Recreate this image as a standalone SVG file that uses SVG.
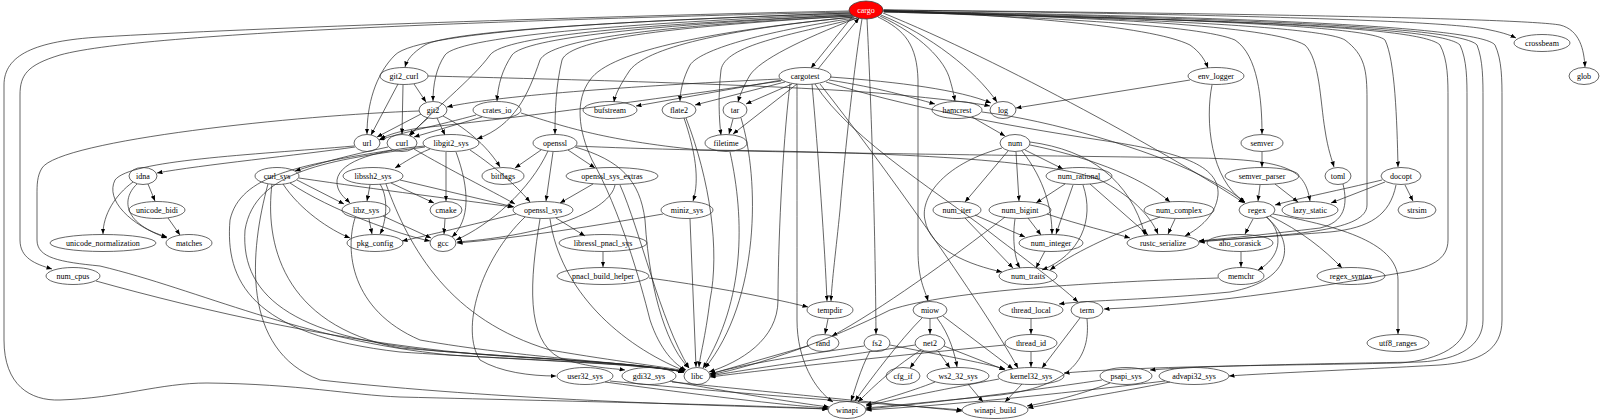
<svg xmlns="http://www.w3.org/2000/svg" width="1600" height="420" viewBox="0 0 1600 420">
<style>
.n ellipse{fill:none;stroke:#333;stroke-width:0.75}
.n text{font-family:"Liberation Serif",serif;font-size:8px;text-anchor:middle;fill:#000}
#edges path{fill:none;stroke:#222;stroke-width:0.7;marker-end:url(#a)}
</style>
<defs>
<marker id="a" viewBox="0 0 10 8" refX="10" refY="4" markerWidth="5.5" markerHeight="4.4" orient="auto" markerUnits="userSpaceOnUse"><path d="M0,0 L10,4 L0,8z" fill="#000"/></marker>
</defs>
<rect width="1600" height="420" fill="#fff"/>
<g id="edges">
<path d="M849,11 C600,16 250,28 100,37 C35,41 4,55 4,85 L4,340 C4,385 30,401 60,400 C120,398 160,383 207,383 C300,384 350,395 400,397 C600,402 750,405 828,409"/>
<path d="M849,12 C600,18 150,30 60,55 C27,65 20,75 20,95 L20,240 C20,258 35,264 52,269"/>
<path d="M850,13 C650,20 420,30 395,55 C375,75 367,105 367,134"/>
<path d="M851,13 C650,20 450,30 425,45 C412,53 407,60 405,67"/>
<path d="M851,14 C650,22 460,35 445,55 C436,68 433,85 433,101"/>
<path d="M852,15 C650,24 505,35 490,55 C472,80 430,112 410,136"/>
<path d="M852,15 C650,25 525,38 512,55 C502,70 498,85 497,101"/>
<path d="M853,16 C650,26 550,40 540,60 C528,95 515,125 477,139"/>
<path d="M853,16 C680,26 570,38 562,60 C556,85 555,110 555,134"/>
<path d="M854,17 C720,30 610,50 590,80 C575,100 578,130 592,160 C620,210 640,280 650,320 C660,350 675,365 686,370"/>
<path d="M854,17 C740,28 650,45 630,70 C620,85 615,95 614,102"/>
<path d="M855,18 C760,32 700,50 690,65 C683,78 680,92 680,101"/>
<path d="M857,18 C800,40 760,60 750,75 C743,87 740,95 738,102"/>
<path d="M858,18 C790,35 725,45 721,70 C718,95 719,120 721,135"/>
<path d="M852,17 L811,68"/>
<path d="M818,69 L859,18"/>
<path d="M862,19 C855,60 845,150 840,210 C836,250 832,280 831,301"/>
<path d="M867,19 C870,80 875,200 876,334"/>
<path d="M878,17 C905,30 917,45 918,80 L918,250 C918,280 925,290 928,301"/>
<path d="M880,16 C920,35 945,60 950,80 C953,90 954,96 955,101"/>
<path d="M881,15 C930,35 975,70 997,102"/>
<path d="M883,13 C1000,60 1180,160 1244,203"/>
<path d="M883,10 C1000,15 1150,25 1190,45 C1200,52 1205,60 1208,68"/>
<path d="M883,11 C1050,18 1200,25 1235,40 C1258,55 1262,100 1262,134"/>
<path d="M883,11 C1100,18 1270,25 1305,45 C1320,60 1320,100 1325,130 C1328,150 1332,160 1334,167"/>
<path d="M884,11 C1100,18 1320,25 1345,40 C1365,55 1367,70 1367,100 L1367,205 C1367,230 1300,235 1199,241"/>
<path d="M884,11 C1150,18 1370,25 1385,40 C1395,60 1397,120 1398,167"/>
<path d="M884,12 C1200,20 1420,25 1440,45 C1448,60 1448,80 1448,100 L1448,240 C1448,260 1430,268 1400,273 C1300,290 1200,305 1104,309"/>
<path d="M884,12 C1200,20 1440,25 1460,45 C1467,60 1467,80 1467,100 L1467,320 C1467,345 1440,360 1400,363 C1250,366 1150,366 1064,373"/>
<path d="M884,11 C1200,18 1460,25 1477,45 C1483,60 1483,80 1483,100 L1483,320 C1483,345 1460,360 1420,362 C1300,364 1200,366 1150,370"/>
<path d="M884,11 C1200,16 1480,25 1495,45 C1502,60 1502,80 1502,100 L1502,320 C1502,350 1480,362 1440,365 C1350,370 1270,373 1229,376"/>
<path d="M884,10 C1200,14 1450,20 1490,30 C1505,33 1512,36 1516,38"/>
<path d="M884,10 C1200,13 1520,18 1560,25 C1580,30 1584,50 1585,67"/>
<path d="M780,79 C650,85 500,95 447,107"/>
<path d="M781,81 C650,100 500,120 420,128 C400,131 390,134 380,139"/>
<path d="M782,80 L636,106"/>
<path d="M785,82 L695,105"/>
<path d="M792,84 L746,104"/>
<path d="M797,84 L733,134"/>
<path d="M829,80 C880,88 910,97 935,104"/>
<path d="M830,77 C900,82 960,90 991,103"/>
<path d="M797,84 C797,150 797,250 797,320 C797,360 815,390 833,402"/>
<path d="M790,84 C782,150 778,250 778,300 C778,340 740,362 709,372"/>
<path d="M812,84 C818,150 825,250 827,301"/>
<path d="M815,84 C850,140 950,200 1000,240 C1040,270 1065,290 1078,302"/>
<path d="M820,84 C880,160 980,300 1018,368"/>
<path d="M826,82 C900,105 1000,125 1100,140 C1180,152 1220,165 1218,195 C1216,215 1200,228 1185,236"/>
<path d="M414,84 L426,102"/>
<path d="M398,84 L371,135"/>
<path d="M403,85 L402,134"/>
<path d="M428,76 C550,79 800,85 900,95 C950,100 975,103 990,106"/>
<path d="M421,114 L377,137"/>
<path d="M428,118 L409,135"/>
<path d="M437,118 L445,135"/>
<path d="M443,116 C470,130 490,150 500,167"/>
<path d="M419,111 C300,115 60,140 42,168 C37,176 37,185 37,195 L37,240 C37,258 60,262 100,266 C200,290 300,340 450,355 C560,362 640,364 684,372"/>
<path d="M476,115 C440,125 400,133 379,140"/>
<path d="M482,117 L414,137"/>
<path d="M521,113 C560,125 600,140 700,150 C900,152 1050,160 1100,180 C1130,195 1150,215 1158,234"/>
<path d="M355,147 C300,155 200,165 157,173"/>
<path d="M354,146 C250,155 130,160 115,180 C105,200 130,225 167,238"/>
<path d="M148,184 L155,201"/>
<path d="M133,182 C115,195 103,215 103,234"/>
<path d="M137,184 C120,200 125,225 167,237"/>
<path d="M168,218 L180,235"/>
<path d="M388,147 C350,155 320,163 295,171"/>
<path d="M414,149 C450,170 490,190 515,204"/>
<path d="M392,150 C300,165 240,175 230,220 C225,280 250,335 400,352 C520,360 640,363 684,372"/>
<path d="M297,180 L344,204"/>
<path d="M299,178 C380,190 460,200 513,207"/>
<path d="M283,184 C300,210 330,230 350,238"/>
<path d="M290,183 C330,210 400,235 430,241"/>
<path d="M272,184 C265,240 280,325 400,348 C520,358 640,363 684,372"/>
<path d="M268,184 C250,250 240,350 320,380 C500,400 700,405 828,409"/>
<path d="M370,185 L367,201"/>
<path d="M400,180 L514,207"/>
<path d="M391,183 L434,203"/>
<path d="M380,184 C390,200 385,225 380,234"/>
<path d="M386,184 C410,250 450,320 550,350 C620,362 660,366 685,371"/>
<path d="M430,149 C415,155 405,162 395,168"/>
<path d="M425,146 C380,150 340,160 337,180 C336,192 345,198 350,203"/>
<path d="M470,150 C500,170 520,190 530,202"/>
<path d="M446,152 L446,201"/>
<path d="M456,152 C470,190 470,220 452,237"/>
<path d="M425,147 C330,160 255,170 245,230 C240,300 300,340 450,352 C560,360 640,363 684,372"/>
<path d="M541,150 L515,168"/>
<path d="M553,152 L546,201"/>
<path d="M568,150 L595,168"/>
<path d="M548,151 C530,190 490,225 456,240"/>
<path d="M575,147 C620,160 640,180 645,220 C650,300 670,350 689,368"/>
<path d="M576,146 C700,152 1000,155 1200,158 C1290,160 1305,170 1310,201"/>
<path d="M593,184 L560,203"/>
<path d="M615,185 C610,210 550,235 457,242"/>
<path d="M620,185 C640,230 660,320 689,368"/>
<path d="M516,214 C470,225 430,235 402,241"/>
<path d="M556,218 L585,236"/>
<path d="M525,217 C480,260 460,330 480,360 C500,372 530,376 556,376"/>
<path d="M540,219 C530,280 525,340 560,358 C590,368 610,368 625,370"/>
<path d="M550,219 C560,290 620,345 685,371"/>
<path d="M603,252 L603,267"/>
<path d="M649,278 C700,285 760,295 808,307"/>
<path d="M445,219 L444,234"/>
<path d="M369,219 L372,234"/>
<path d="M383,216 L431,238"/>
<path d="M355,218 C345,250 350,310 420,340 C520,358 640,363 684,372"/>
<path d="M684,118 C695,150 700,180 693,201"/>
<path d="M686,118 C710,180 720,250 710,300 C705,340 700,355 699,367"/>
<path d="M663,214 C600,225 520,238 457,243"/>
<path d="M690,219 L696,367"/>
<path d="M733,119 L729,134"/>
<path d="M741,118 C760,180 760,300 705,368"/>
<path d="M730,152 C745,220 745,300 703,368"/>
<path d="M972,117 L1005,136"/>
<path d="M982,112 C1050,120 1150,150 1200,175 C1230,190 1240,198 1245,203"/>
<path d="M1008,151 L965,202"/>
<path d="M1016,152 L1019,201"/>
<path d="M1025,150 L1063,169"/>
<path d="M1030,145 C1080,155 1140,175 1170,202"/>
<path d="M1022,151 C1045,180 1052,210 1052,234"/>
<path d="M1002,148 C940,165 920,200 925,220 C930,250 970,265 1002,272"/>
<path d="M1030,142 C1090,150 1130,180 1145,235"/>
<path d="M975,215 L1025,237"/>
<path d="M965,218 L1013,268"/>
<path d="M1028,218 L1041,235"/>
<path d="M1015,219 C1012,240 1015,260 1020,268"/>
<path d="M1047,214 C1080,225 1110,232 1130,238"/>
<path d="M1005,217 C950,260 880,310 832,336"/>
<path d="M1065,184 L1036,203"/>
<path d="M1073,185 L1056,234"/>
<path d="M1083,185 C1095,220 1080,255 1042,270"/>
<path d="M1090,184 L1148,235"/>
<path d="M1160,217 C1110,235 1070,255 1050,270"/>
<path d="M1175,219 L1168,234"/>
<path d="M1045,251 L1036,268"/>
<path d="M1190,80 L1016,108"/>
<path d="M1212,85 C1205,120 1210,180 1245,202"/>
<path d="M1262,152 L1262,167"/>
<path d="M1260,185 L1258,201"/>
<path d="M1275,184 L1298,202"/>
<path d="M1343,184 C1348,205 1345,222 1320,228 C1270,234 1230,238 1199,241"/>
<path d="M1382,180 C1340,190 1300,198 1275,205"/>
<path d="M1385,182 L1331,203"/>
<path d="M1405,185 L1413,201"/>
<path d="M1396,185 C1390,215 1370,228 1330,232 C1280,236 1230,239 1199,242"/>
<path d="M1253,219 L1245,234"/>
<path d="M1267,217 C1285,235 1280,258 1258,270"/>
<path d="M1270,216 C1300,230 1325,250 1342,268"/>
<path d="M1273,214 C1330,225 1398,240 1398,280 L1398,334"/>
<path d="M1266,217 C1295,240 1295,280 1230,292 C1150,300 1090,300 1059,304"/>
<path d="M1241,252 L1241,267"/>
<path d="M1218,278 C1100,282 950,290 890,310 C830,340 760,365 710,375"/>
<path d="M828,319 L825,334"/>
<path d="M808,346 L710,374"/>
<path d="M864,346 C800,355 740,365 710,374"/>
<path d="M870,351 C860,370 855,390 851,401"/>
<path d="M890,345 C940,355 980,362 1005,369"/>
<path d="M930,319 L930,334"/>
<path d="M937,318 C950,335 955,355 957,367"/>
<path d="M943,316 L1013,369"/>
<path d="M922,318 C900,340 870,380 855,401"/>
<path d="M923,351 L910,368"/>
<path d="M938,351 L950,368"/>
<path d="M944,346 L1005,370"/>
<path d="M915,345 C850,355 760,367 710,376"/>
<path d="M921,350 C890,370 870,390 858,402"/>
<path d="M1031,319 L1031,334"/>
<path d="M1031,352 L1031,367"/>
<path d="M1005,345 C900,355 780,368 710,377"/>
<path d="M1080,318 L1042,368"/>
<path d="M1087,319 C1090,350 1080,385 1000,395 C950,400 900,405 866,408"/>
<path d="M999,379 C950,388 900,398 866,406"/>
<path d="M1022,384 L1005,402"/>
<path d="M935,382 C910,392 880,400 866,405"/>
<path d="M968,384 L983,402"/>
<path d="M1102,380 C1000,395 930,403 866,409"/>
<path d="M1110,383 C1080,395 1050,402 1027,406"/>
<path d="M1165,381 C1050,395 950,405 866,410"/>
<path d="M1170,382 C1120,392 1070,400 1028,408"/>
<path d="M605,382 C700,395 780,405 828,408"/>
<path d="M610,381 C750,395 900,405 962,410"/>
<path d="M670,381 C730,392 790,402 829,407"/>
<path d="M672,382 C800,395 900,405 962,411"/>
<path d="M96,281 C200,310 350,345 500,356 C600,362 650,365 684,372"/>
</g>
<g id="n-cargo" class="n"><ellipse cx="866" cy="10" rx="17" ry="9" style="fill:#f00"/><text x="866" y="12.8" style="fill:#fff">cargo</text></g>
<g id="n-crossbeam" class="n"><ellipse cx="1542" cy="43" rx="28" ry="8.5"/><text x="1542" y="45.8">crossbeam</text></g>
<g id="n-git2_curl" class="n"><ellipse cx="404" cy="76" rx="24" ry="8.5"/><text x="404" y="78.8">git2_curl</text></g>
<g id="n-cargotest" class="n"><ellipse cx="805" cy="76" rx="26" ry="8.5"/><text x="805" y="78.8">cargotest</text></g>
<g id="n-env_logger" class="n"><ellipse cx="1216" cy="76" rx="28" ry="8.5"/><text x="1216" y="78.8">env_logger</text></g>
<g id="n-glob" class="n"><ellipse cx="1584" cy="76" rx="15" ry="8.5"/><text x="1584" y="78.8">glob</text></g>
<g id="n-git2" class="n"><ellipse cx="433" cy="110" rx="14" ry="8.5"/><text x="433" y="112.8">git2</text></g>
<g id="n-crates_io" class="n"><ellipse cx="497" cy="110" rx="24" ry="8.5"/><text x="497" y="112.8">crates_io</text></g>
<g id="n-bufstream" class="n"><ellipse cx="610" cy="110" rx="27" ry="8.5"/><text x="610" y="112.8">bufstream</text></g>
<g id="n-flate2" class="n"><ellipse cx="679" cy="110" rx="17" ry="8.5"/><text x="679" y="112.8">flate2</text></g>
<g id="n-tar" class="n"><ellipse cx="735" cy="110" rx="12" ry="8.5"/><text x="735" y="112.8">tar</text></g>
<g id="n-hamcrest" class="n"><ellipse cx="957" cy="110" rx="25" ry="8.5"/><text x="957" y="112.8">hamcrest</text></g>
<g id="n-log" class="n"><ellipse cx="1003" cy="110" rx="13" ry="8.5"/><text x="1003" y="112.8">log</text></g>
<g id="n-url" class="n"><ellipse cx="367" cy="143" rx="13" ry="8.5"/><text x="367" y="145.8">url</text></g>
<g id="n-curl" class="n"><ellipse cx="402" cy="143" rx="15" ry="8.5"/><text x="402" y="145.8">curl</text></g>
<g id="n-libgit2_sys" class="n"><ellipse cx="451" cy="143" rx="28" ry="8.5"/><text x="451" y="145.8">libgit2_sys</text></g>
<g id="n-openssl" class="n"><ellipse cx="555" cy="143" rx="22" ry="8.5"/><text x="555" y="145.8">openssl</text></g>
<g id="n-filetime" class="n"><ellipse cx="726" cy="143" rx="21" ry="8.5"/><text x="726" y="145.8">filetime</text></g>
<g id="n-num" class="n"><ellipse cx="1015" cy="143" rx="15" ry="8.5"/><text x="1015" y="145.8">num</text></g>
<g id="n-semver" class="n"><ellipse cx="1262" cy="143" rx="21" ry="8.5"/><text x="1262" y="145.8">semver</text></g>
<g id="n-idna" class="n"><ellipse cx="143" cy="176" rx="14" ry="8.5"/><text x="143" y="178.8">idna</text></g>
<g id="n-curl_sys" class="n"><ellipse cx="277" cy="176" rx="22" ry="8.5"/><text x="277" y="178.8">curl_sys</text></g>
<g id="n-libssh2_sys" class="n"><ellipse cx="373" cy="176" rx="30" ry="8.5"/><text x="373" y="178.8">libssh2_sys</text></g>
<g id="n-bitflags" class="n"><ellipse cx="503" cy="176" rx="21" ry="8.5"/><text x="503" y="178.8">bitflags</text></g>
<g id="n-openssl_sys_extras" class="n"><ellipse cx="612" cy="176" rx="46" ry="8.5"/><text x="612" y="178.8">openssl_sys_extras</text></g>
<g id="n-num_rational" class="n"><ellipse cx="1079" cy="176" rx="33" ry="8.5"/><text x="1079" y="178.8">num_rational</text></g>
<g id="n-semver_parser" class="n"><ellipse cx="1262" cy="176" rx="37" ry="8.5"/><text x="1262" y="178.8">semver_parser</text></g>
<g id="n-toml" class="n"><ellipse cx="1338" cy="176" rx="13" ry="8.5"/><text x="1338" y="178.8">toml</text></g>
<g id="n-docopt" class="n"><ellipse cx="1401" cy="176" rx="20" ry="8.5"/><text x="1401" y="178.8">docopt</text></g>
<g id="n-unicode_bidi" class="n"><ellipse cx="157" cy="210" rx="28" ry="8.5"/><text x="157" y="212.8">unicode_bidi</text></g>
<g id="n-libz_sys" class="n"><ellipse cx="366" cy="210" rx="24" ry="8.5"/><text x="366" y="212.8">libz_sys</text></g>
<g id="n-cmake" class="n"><ellipse cx="446" cy="210" rx="16" ry="8.5"/><text x="446" y="212.8">cmake</text></g>
<g id="n-openssl_sys" class="n"><ellipse cx="543" cy="210" rx="30" ry="8.5"/><text x="543" y="212.8">openssl_sys</text></g>
<g id="n-miniz_sys" class="n"><ellipse cx="687" cy="210" rx="26" ry="8.5"/><text x="687" y="212.8">miniz_sys</text></g>
<g id="n-num_iter" class="n"><ellipse cx="957" cy="210" rx="24" ry="8.5"/><text x="957" y="212.8">num_iter</text></g>
<g id="n-num_bigint" class="n"><ellipse cx="1020" cy="210" rx="31" ry="8.5"/><text x="1020" y="212.8">num_bigint</text></g>
<g id="n-num_complex" class="n"><ellipse cx="1179" cy="210" rx="35" ry="8.5"/><text x="1179" y="212.8">num_complex</text></g>
<g id="n-regex" class="n"><ellipse cx="1257" cy="210" rx="18" ry="8.5"/><text x="1257" y="212.8">regex</text></g>
<g id="n-lazy_static" class="n"><ellipse cx="1310" cy="210" rx="28" ry="8.5"/><text x="1310" y="212.8">lazy_static</text></g>
<g id="n-strsim" class="n"><ellipse cx="1417" cy="210" rx="19" ry="8.5"/><text x="1417" y="212.8">strsim</text></g>
<g id="n-unicode_normalization" class="n"><ellipse cx="103" cy="243" rx="53" ry="8.5"/><text x="103" y="245.8">unicode_normalization</text></g>
<g id="n-matches" class="n"><ellipse cx="189" cy="243" rx="23" ry="8.5"/><text x="189" y="245.8">matches</text></g>
<g id="n-pkg_config" class="n"><ellipse cx="375" cy="243" rx="28" ry="8.5"/><text x="375" y="245.8">pkg_config</text></g>
<g id="n-gcc" class="n"><ellipse cx="443" cy="243" rx="13" ry="8.5"/><text x="443" y="245.8">gcc</text></g>
<g id="n-libressl_pnacl_sys" class="n"><ellipse cx="603" cy="243" rx="44" ry="8.5"/><text x="603" y="245.8">libressl_pnacl_sys</text></g>
<g id="n-num_integer" class="n"><ellipse cx="1051" cy="243" rx="32" ry="8.5"/><text x="1051" y="245.8">num_integer</text></g>
<g id="n-rustc_serialize" class="n"><ellipse cx="1163" cy="243" rx="36" ry="8.5"/><text x="1163" y="245.8">rustc_serialize</text></g>
<g id="n-aho_corasick" class="n"><ellipse cx="1240" cy="243" rx="33" ry="8.5"/><text x="1240" y="245.8">aho_corasick</text></g>
<g id="n-num_cpus" class="n"><ellipse cx="73" cy="276" rx="27" ry="8.5"/><text x="73" y="278.8">num_cpus</text></g>
<g id="n-pnacl_build_helper" class="n"><ellipse cx="603" cy="276" rx="46" ry="8.5"/><text x="603" y="278.8">pnacl_build_helper</text></g>
<g id="n-num_traits" class="n"><ellipse cx="1028" cy="276" rx="29" ry="8.5"/><text x="1028" y="278.8">num_traits</text></g>
<g id="n-memchr" class="n"><ellipse cx="1241" cy="276" rx="23" ry="8.5"/><text x="1241" y="278.8">memchr</text></g>
<g id="n-regex_syntax" class="n"><ellipse cx="1351" cy="276" rx="34" ry="8.5"/><text x="1351" y="278.8">regex_syntax</text></g>
<g id="n-tempdir" class="n"><ellipse cx="830" cy="310" rx="23" ry="8.5"/><text x="830" y="312.8">tempdir</text></g>
<g id="n-miow" class="n"><ellipse cx="930" cy="310" rx="17" ry="8.5"/><text x="930" y="312.8">miow</text></g>
<g id="n-thread_local" class="n"><ellipse cx="1031" cy="310" rx="32" ry="8.5"/><text x="1031" y="312.8">thread_local</text></g>
<g id="n-term" class="n"><ellipse cx="1087" cy="310" rx="16" ry="8.5"/><text x="1087" y="312.8">term</text></g>
<g id="n-rand" class="n"><ellipse cx="823" cy="343" rx="16" ry="8.5"/><text x="823" y="345.8">rand</text></g>
<g id="n-fs2" class="n"><ellipse cx="877" cy="343" rx="13" ry="8.5"/><text x="877" y="345.8">fs2</text></g>
<g id="n-net2" class="n"><ellipse cx="930" cy="343" rx="15" ry="8.5"/><text x="930" y="345.8">net2</text></g>
<g id="n-thread_id" class="n"><ellipse cx="1031" cy="343" rx="26" ry="8.5"/><text x="1031" y="345.8">thread_id</text></g>
<g id="n-utf8_ranges" class="n"><ellipse cx="1398" cy="343" rx="31" ry="8.5"/><text x="1398" y="345.8">utf8_ranges</text></g>
<g id="n-user32_sys" class="n"><ellipse cx="585" cy="376" rx="28" ry="8.5"/><text x="585" y="378.8">user32_sys</text></g>
<g id="n-gdi32_sys" class="n"><ellipse cx="649" cy="376" rx="27" ry="8.5"/><text x="649" y="378.8">gdi32_sys</text></g>
<g id="n-libc" class="n"><ellipse cx="697" cy="376" rx="13" ry="8.5"/><text x="697" y="378.8">libc</text></g>
<g id="n-cfg_if" class="n"><ellipse cx="903" cy="376" rx="17" ry="8.5"/><text x="903" y="378.8">cfg_if</text></g>
<g id="n-ws2_32_sys" class="n"><ellipse cx="958" cy="376" rx="31" ry="8.5"/><text x="958" y="378.8">ws2_32_sys</text></g>
<g id="n-kernel32_sys" class="n"><ellipse cx="1031" cy="376" rx="33" ry="8.5"/><text x="1031" y="378.8">kernel32_sys</text></g>
<g id="n-psapi_sys" class="n"><ellipse cx="1126" cy="376" rx="26" ry="8.5"/><text x="1126" y="378.8">psapi_sys</text></g>
<g id="n-advapi32_sys" class="n"><ellipse cx="1194" cy="376" rx="35" ry="8.5"/><text x="1194" y="378.8">advapi32_sys</text></g>
<g id="n-winapi" class="n"><ellipse cx="847" cy="410" rx="19" ry="8.5"/><text x="847" y="412.8">winapi</text></g>
<g id="n-winapi_build" class="n"><ellipse cx="995" cy="410" rx="33" ry="8.5"/><text x="995" y="412.8">winapi_build</text></g>
</svg>
